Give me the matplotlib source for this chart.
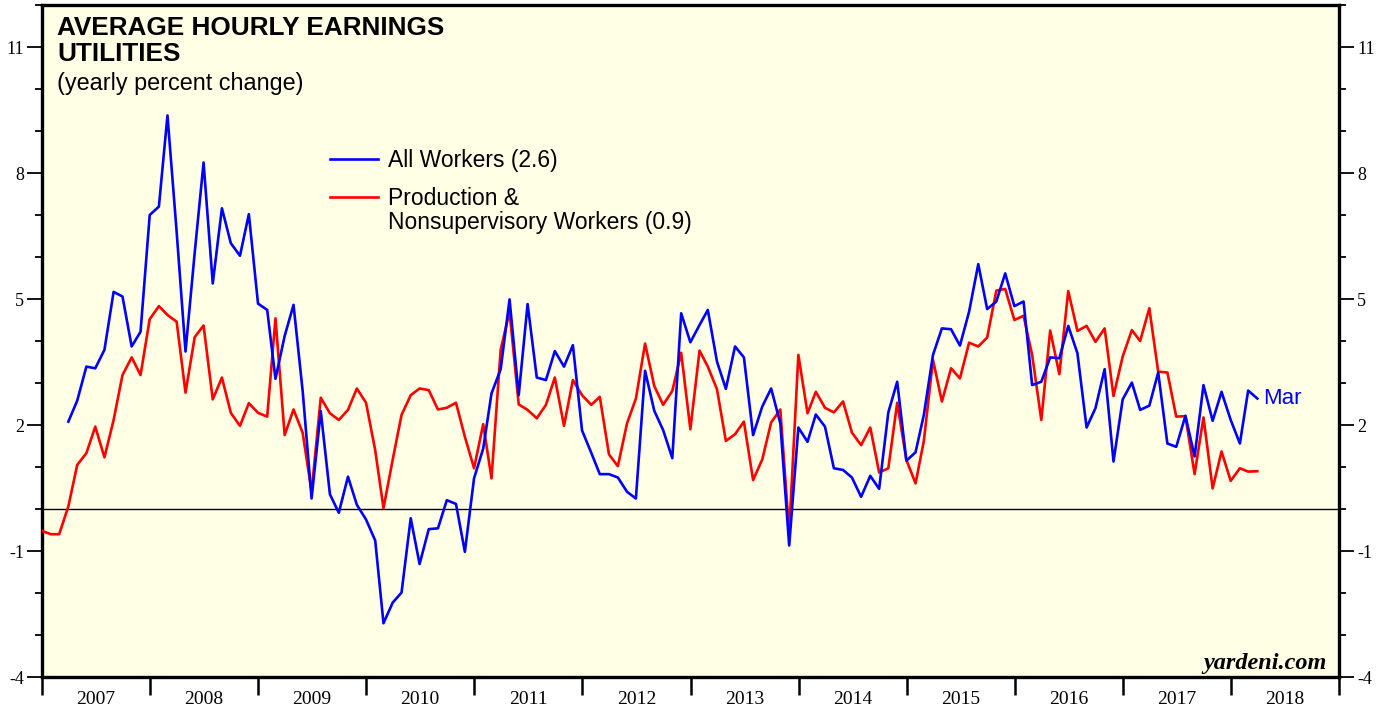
import matplotlib
matplotlib.use("Agg")
import matplotlib.pyplot as plt
import matplotlib.dates as mdates
from matplotlib.ticker import MultipleLocator, FixedLocator, NullFormatter, FixedFormatter
import pandas as pd

plt.rcParams["axes.unicode_minus"] = False

# ---------------- data (yearly % change, monthly) ----------------
prod_start = "2006-12-31"   # first month of production-worker series (month end)
all_start = "2007-03-31"    # first month of all-workers series

prod_workers = [
    -0.52, -0.60, -0.60, 0.06, 1.05, 1.33, 1.96, 1.23, 2.12, 3.19, 3.61, 3.19,
    4.52, 4.83, 4.62, 4.46, 2.77, 4.09, 4.37, 2.61, 3.13, 2.29, 1.98, 2.52,
    2.29, 2.20, 4.54, 1.76, 2.37, 1.81, 0.41, 2.65, 2.28, 2.12, 2.36, 2.87,
    2.53, 1.40, 0.02, 1.17, 2.24, 2.71, 2.87, 2.83, 2.37, 2.41, 2.53, 1.72,
    0.97, 2.02, 0.73, 3.79, 4.70, 2.49, 2.36, 2.16, 2.48, 3.13, 1.98, 3.07,
    2.71, 2.48, 2.67, 1.30, 1.02, 2.04, 2.63, 3.94, 2.93, 2.48, 2.81, 3.72,
    1.90, 3.77, 3.39, 2.85, 1.62, 1.78, 2.08, 0.69, 1.18, 2.06, 2.37, -0.56,
    3.67, 2.28, 2.79, 2.41, 2.30, 2.56, 1.82, 1.52, 1.94, 0.87, 0.97, 2.53,
    1.17, 0.61, 1.62, 3.55, 2.56, 3.35, 3.11, 3.96, 3.87, 4.08, 5.20, 5.24,
    4.50, 4.60, 3.67, 2.12, 4.25, 3.21, 5.19, 4.24, 4.36, 3.98, 4.30, 2.69,
    3.63, 4.26, 4.00, 4.78, 3.27, 3.25, 2.20, 2.21, 0.83, 2.18, 0.49, 1.37,
    0.67, 0.97, 0.89, 0.90,
]

all_workers = [
    2.08, 2.58, 3.39, 3.35, 3.79, 5.17, 5.06, 3.87, 4.22,
    7.00, 7.20, 9.37, 6.60, 3.75, 6.10, 8.25, 5.37, 7.16, 6.33, 6.03, 7.02,
    4.89, 4.74, 3.10, 4.12, 4.86, 2.80, 0.25, 2.33, 0.35, -0.09, 0.77, 0.10,
    -0.25, -0.75, -2.72, -2.23, -1.99, -0.22, -1.31, -0.48, -0.46, 0.21, 0.12, -1.02,
    0.73, 1.44, 2.75, 3.33, 4.99, 2.71, 4.88, 3.13, 3.07, 3.76, 3.39, 3.90,
    1.87, 1.34, 0.83, 0.83, 0.75, 0.41, 0.25, 3.29, 2.34, 1.88, 1.21, 4.66,
    3.97, 4.38, 4.74, 3.51, 2.86, 3.87, 3.61, 1.76, 2.44, 2.87, 2.04, -0.87,
    1.94, 1.60, 2.25, 1.96, 0.97, 0.93, 0.75, 0.29, 0.79, 0.48, 2.30, 3.03,
    1.15, 1.35, 2.24, 3.67, 4.30, 4.28, 3.89, 4.70, 5.83, 4.76, 4.94, 5.61,
    4.83, 4.94, 2.95, 3.03, 3.61, 3.59, 4.36, 3.71, 1.94, 2.40, 3.33, 1.13,
    2.61, 3.01, 2.36, 2.46, 3.25, 1.56, 1.48, 2.22, 1.25, 2.95, 2.10, 2.79,
    2.12, 1.56, 2.82, 2.63,
]

years = list(range(2007, 2019))
y_labels = [-4, -1, 2, 5, 8, 11]
title_lines = ["AVERAGE HOURLY EARNINGS", "UTILITIES"]
subtitle = "(yearly percent change)"
legend_all = "All Workers (2.6)"
legend_prod = ["Production &", "Nonsupervisory Workers (0.9)"]

prod_dates = pd.date_range(prod_start, periods=len(prod_workers), freq="ME")
all_dates = pd.date_range(all_start, periods=len(all_workers), freq="ME")

# ---------------- figure ----------------
BG = "#FFFFE6"
W, H = 1379, 710
fig = plt.figure(figsize=(W / 100, H / 100), dpi=100)
ax = fig.add_axes([42 / W, 33 / H, (1339 - 42) / W, (677 - 5) / H])
ax.set_facecolor(BG)

ax.axhline(0, color="black", lw=1.0, zorder=1)
ax.plot(prod_dates, prod_workers, color="#FF0000", lw=1.9, zorder=3)
ax.plot(all_dates, all_workers, color="#0000FF", lw=1.9, zorder=4)

ax.set_ylim(-4, 12)
ax.set_xlim(pd.Timestamp("2007-01-01"), pd.Timestamp("2019-01-01"))

serif = ["Liberation Serif", "DejaVu Serif"]
sans = ["Liberation Sans", "DejaVu Sans"]

# y axis ticks on both sides
ax.yaxis.set_major_locator(FixedLocator(y_labels))
ax.yaxis.set_minor_locator(MultipleLocator(1))
ax.tick_params(axis="y", which="both", direction="out", left=True, right=True,
               labelleft=True, labelright=True, width=1.3, color="black")
ax.tick_params(axis="y", which="major", length=11, pad=2, labelsize=13)
ax.tick_params(axis="y", which="minor", length=5)
for lab in ax.get_yticklabels():
    lab.set_fontfamily(serif)

# x axis: year boundaries as ticks, labels centred in between
ax.xaxis.set_major_locator(FixedLocator(
    [mdates.date2num(pd.Timestamp(f"{y}-01-01")) for y in years + [2019]]))
ax.xaxis.set_major_formatter(NullFormatter())
ax.xaxis.set_minor_locator(FixedLocator(
    [mdates.date2num(pd.Timestamp(f"{y}-07-02")) for y in years]))
ax.xaxis.set_minor_formatter(FixedFormatter([str(y) for y in years]))
ax.tick_params(axis="x", which="major", direction="out", length=13, width=1.8)
ax.tick_params(axis="x", which="minor", length=0, pad=10, labelsize=14)
for lab in ax.get_xticklabels(minor=True):
    lab.set_fontfamily(serif)

for s in ax.spines.values():
    s.set_linewidth(2.4)
    s.set_color("black")


def fx(px):
    return px / W


def fy(py):
    return 1 - py / H


# titles (baselines in pixel rows)
fig.text(fx(57), fy(35), title_lines[0], fontsize=18.8, fontweight="bold",
         family=sans, va="baseline", ha="left")
fig.text(fx(57), fy(61), title_lines[1], fontsize=18.8, fontweight="bold",
         family=sans, va="baseline", ha="left")
fig.text(fx(57), fy(90), subtitle, fontsize=16.8, family=sans,
         va="baseline", ha="left")

# legend (manual)
fig.add_artist(plt.Line2D([fx(330), fx(378)], [fy(159), fy(159)],
                          color="#0000FF", lw=1.9))
fig.text(fx(388), fy(167), legend_all, fontsize=16.5, family=sans,
         va="baseline", ha="left")
fig.add_artist(plt.Line2D([fx(330), fx(378)], [fy(197), fy(197)],
                          color="#FF0000", lw=1.9))
fig.text(fx(388), fy(205), legend_prod[0], fontsize=16.5, family=sans,
         va="baseline", ha="left")
fig.text(fx(388), fy(229), legend_prod[1], fontsize=16.5, family=sans,
         va="baseline", ha="left")

# end label
ax.annotate("Mar", xy=(all_dates[-1], all_workers[-1]), xytext=(4.5, 0),
            textcoords="offset points", color="#0000FF", fontsize=16,
            family=sans, va="center", ha="left")

fig.text(fx(1327), fy(669), "yardeni.com", fontsize=17.5,
         family=serif, style="italic", fontweight="bold", ha="right", va="baseline")

fig.savefig("out.png", dpi=100, facecolor="white")
